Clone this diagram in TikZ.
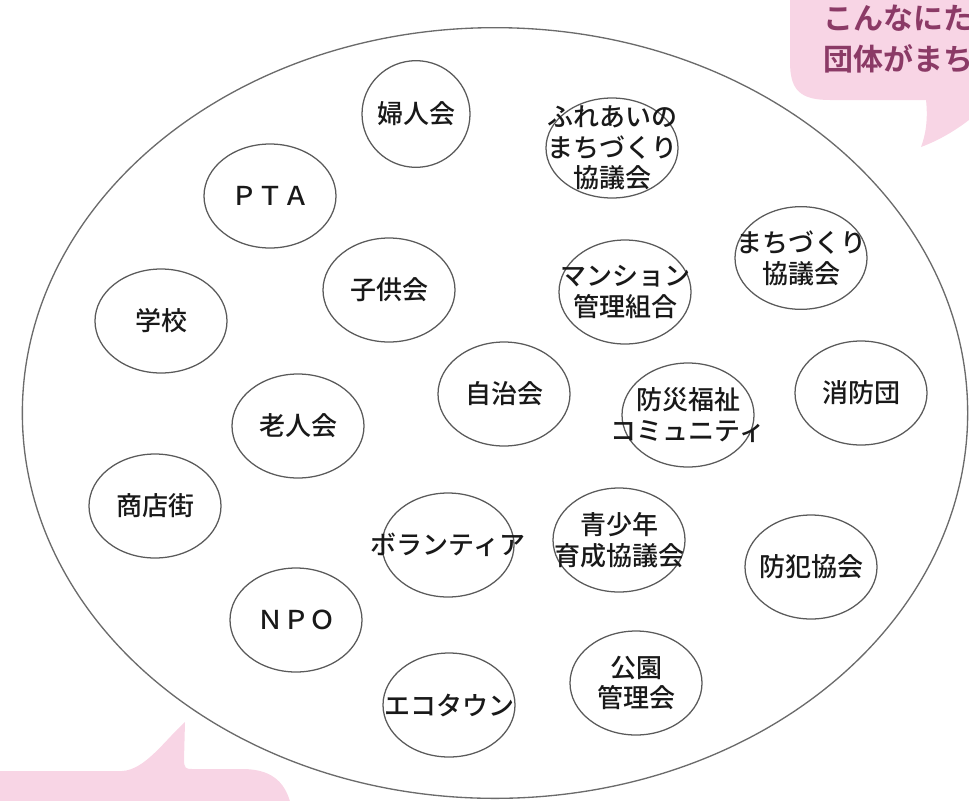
\documentclass[tikz,border=0pt]{standalone}
\usepackage{fontspec}
\newfontfamily\jp{Noto Sans CJK JP Medium}
\newfontfamily\jpbold{Noto Sans CJK JP Bold}
\usetikzlibrary{shapes.geometric}
\definecolor{bubblepink}{HTML}{F8D5E5}
\definecolor{bubbletext}{HTML}{8B3A66}
\definecolor{ringgray}{HTML}{5A5A5A}
\definecolor{fieldgray}{HTML}{6B6B6B}
\begin{document}
\begin{tikzpicture}[x=0.75pt,y=-0.75pt,
  org/.style={draw=ringgray, line width=0.95pt, ellipse, inner sep=0pt,
    minimum width=99pt, minimum height=78pt},
  lbl/.style={font=\jp\fontsize{19.5}{23}\selectfont, align=center, inner sep=0pt, text=black!90},
  saytext/.style={font=\jpbold\fontsize{22.5}{28}\selectfont, text=bubbletext, anchor=west, inner sep=0pt}]
\useasboundingbox (0,0) rectangle (969,800);
% speech bubbles
\fill[bubblepink] (790,-10) -- (790,62) .. controls (790,90) and (800,100) .. (830,100)
  -- (926,100) .. controls (928,118) and (926,134) .. (921,147)
  .. controls (940,140) and (960,128) .. (975,115) -- (975,-10) -- cycle;
\fill[bubblepink] (-5,771) -- (122,771) .. controls (145,770) and (165,740) .. (185,722)
  -- (184,760) .. controls (184,768) and (186,769) .. (192,769)
  -- (245,769) .. controls (275,770) and (286,785) .. (291,805) -- (-5,805) -- cycle;
\node[saytext] (say1) at (823,18) {こんなにた};
\node[saytext] (say2) at (823,59) {団体がまち};
% big field
\node[draw=fieldgray, line width=1pt, ellipse, inner sep=0pt,
  minimum width=709pt, minimum height=578pt] (field) at (495,413) {};
% organisations
\node[org, minimum width=81pt, minimum height=80pt, label={[lbl]center:婦人会}] (fujin) at (416,114) {};
\node[org, minimum height=75pt, label={[lbl]center:ふれあいの\\まちづくり\\協議会}] (fureai) at (612,148) {};
\node[org, label={[lbl]center:ＰＴＡ}] (pta) at (270,196) {};
\node[org, minimum height=77pt, label={[lbl]center:まちづくり\\協議会}] (machi) at (801,258) {};
\node[org, label={[lbl]center:子供会}] (kodomo) at (389,290) {};
\node[org, label={[lbl]center:マンション\\管理組合}] (mansion) at (625,292) {};
\node[org, label={[lbl]center:学校}] (gakko) at (161,321) {};
\node[org, label={[lbl]center:自治会}] (jichi) at (504,394) {};
\node[org, label={[lbl]center:消防団}] (shobo) at (861,393) {};
\node[org, label={[lbl]center:防災福祉\\コミュニティ}] (bosai) at (688,415) {};
\node[org, label={[lbl]center:老人会}] (rojin) at (298,426) {};
\node[org, label={[lbl]center:商店街}] (shoten) at (155,506) {};
\node[org, label={[lbl]center:ボランティア}] (volunteer) at (448,545) {};
\node[org, label={[lbl]center:青少年\\育成協議会}] (seishonen) at (619,540) {};
\node[org, label={[lbl]center:防犯協会}] (bohan) at (811,567) {};
\node[org, label={[lbl]center:ＮＰＯ}] (npo) at (296,620) {};
\node[org, label={[lbl]center:公園\\管理会}] (koen) at (636,683) {};
\node[org, label={[lbl]center:エコタウン}] (eco) at (449,705) {};
\end{tikzpicture}
\end{document}
